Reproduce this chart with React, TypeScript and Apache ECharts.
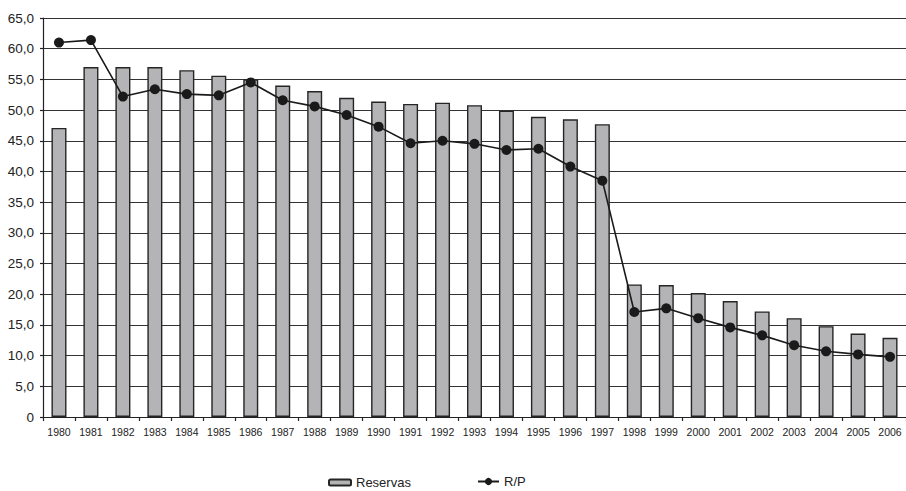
import React, { useEffect, useRef } from "react";
import * as echarts from "echarts";

const years = ["1980","1981","1982","1983","1984","1985","1986","1987","1988","1989","1990","1991","1992","1993","1994","1995","1996","1997","1998","1999","2000","2001","2002","2003","2004","2005","2006"];
const reservas = [47.1,57.0,57.0,57.0,56.5,55.6,55.0,54.0,53.1,52.0,51.4,51.0,51.2,50.8,49.9,48.9,48.5,47.7,21.6,21.5,20.2,18.9,17.2,16.1,14.8,13.6,12.9];
const rp = [61.0,61.4,52.2,53.4,52.6,52.4,54.5,51.6,50.6,49.2,47.3,44.6,45.0,44.5,43.5,43.7,40.8,38.5,17.1,17.7,16.1,14.6,13.3,11.7,10.7,10.2,9.8];
const seriesNames = ["Reservas", "R/P"];

export default function App() {
  const ref = useRef<HTMLDivElement>(null);
  useEffect(() => {
    if (!ref.current) return;
    const chart = echarts.init(ref.current, null, { renderer: "svg" });
    const font = "'Liberation Sans Narrow', 'Liberation Sans', Arial, sans-serif";
    chart.setOption({
      animation: false,
      backgroundColor: "#ffffff",
      grid: { left: 43, right: 0, top: 18, bottom: 74, containLabel: false },
      legend: [
        {
          data: [{ name: seriesNames[0] }],
          left: 323,
          top: 471,
          itemWidth: 22,
          itemHeight: 6,
          itemGap: 0,
          textStyle: { fontFamily: font, fontSize: 13, color: "#222" },
        },
        {
          data: [{ name: seriesNames[1] }],
          left: 472,
          top: 470,
          itemWidth: 21,
          itemHeight: 9,
          textStyle: { fontFamily: font, fontSize: 13, color: "#222" },
        },
      ],
      xAxis: {
        type: "category",
        data: years,
        boundaryGap: true,
        axisLine: { show: true, lineStyle: { color: "#222", width: 1.2 } },
        axisTick: { show: true, length: 4, lineStyle: { color: "#222", width: 1.2 } },
        axisLabel: { fontFamily: font, fontSize: 10.5, color: "#222", margin: 9, interval: 0 },
        splitLine: { show: false },
      },
      yAxis: {
        type: "value",
        min: 0,
        max: 65,
        interval: 5,
        axisLine: { show: true, lineStyle: { color: "#222", width: 1.2 } },
        axisTick: { show: true, length: 3, lineStyle: { color: "#222", width: 1.2 } },
        axisLabel: {
          fontFamily: font,
          fontSize: 13.5,
          color: "#222",
          margin: 9,
          formatter: (v: number) => (v === 0 ? "0" : v.toFixed(1).replace(".", ",")),
        },
        splitLine: { show: true, lineStyle: { color: "#333", width: 1.2 } },
      },
      series: [
        {
          name: seriesNames[0],
          type: "bar",
          data: reservas,
          barWidth: 15,
          itemStyle: { color: "#b4b4b7", borderColor: "#252525", borderWidth: 1.4 },
          z: 2,
        },
        {
          name: seriesNames[1],
          type: "line",
          data: rp,
          symbol: "circle",
          symbolSize: 10,
          lineStyle: { color: "#1a1a1a", width: 1.6 },
          itemStyle: { color: "#1a1a1a" },
          z: 3,
        },
      ],
    });
    return () => chart.dispose();
  }, []);
  return <div ref={ref} style={{ position: "absolute", left: 0, top: 0, width: 906, height: 491 }} />;
}
